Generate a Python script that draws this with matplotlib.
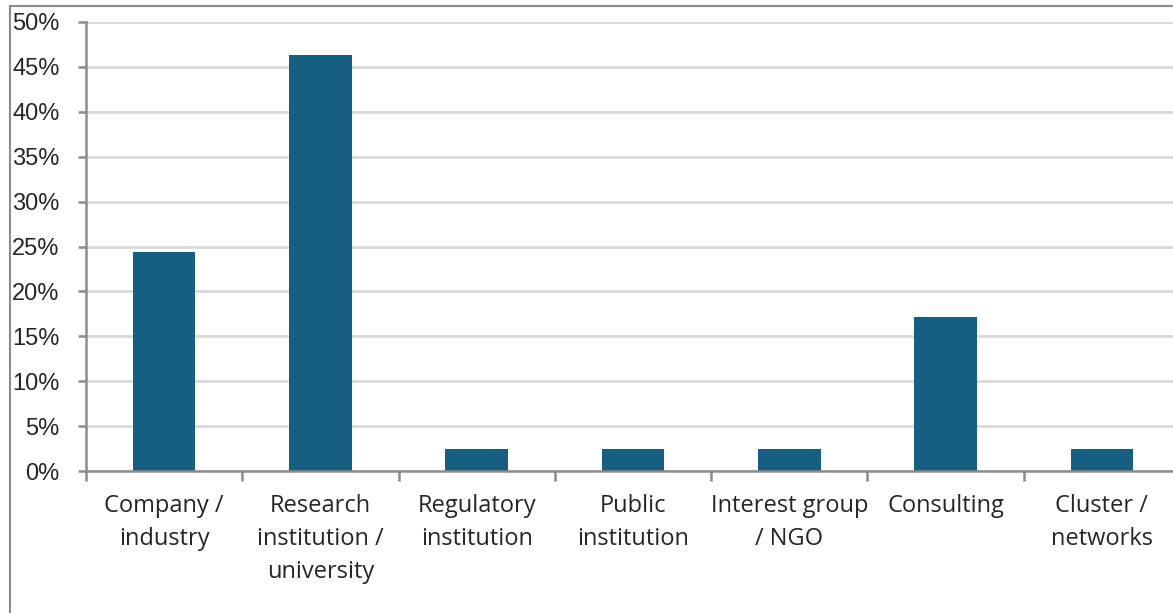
import matplotlib
matplotlib.use("Agg")
import matplotlib.pyplot as plt
from matplotlib.lines import Line2D
from matplotlib.ticker import FixedLocator, FuncFormatter

categories = [
    "Company /\nindustry",
    "Research\ninstitution /\nuniversity",
    "Regulatory\ninstitution",
    "Public\ninstitution",
    "Interest group\n/ NGO",
    "Consulting",
    "Cluster /\nnetworks",
]
shares = [24.4, 46.3, 2.4, 2.4, 2.4, 17.1, 2.4]
y_ticks = [0, 5, 10, 15, 20, 25, 30, 35, 40, 45, 50]

BAR = "#175f82"
GRID = "#d9d9d9"
AXIS = "#8c8c8c"
TEXT = "#262626"

W, H, DPI = 1173, 613, 100
fig = plt.figure(figsize=(W / DPI, H / DPI), dpi=DPI)
fig.patch.set_facecolor("white")

left, right, top, bottom = 86, 1180, 22, 471
ax = fig.add_axes([left / W, 1 - bottom / H, (right - left) / W, (bottom - top) / H])
ax.set_clip_on(False)

x = list(range(len(categories)))
ax.bar(x, shares, width=0.4, color=BAR, zorder=3)

ax.set_xlim(-0.5, len(categories) - 0.5)
ax.set_ylim(0, 50)

# horizontal gridlines
ax.yaxis.set_major_locator(FixedLocator(y_ticks))
ax.yaxis.set_major_formatter(FuncFormatter(lambda v, p: f"{v:.0f}%"))
ax.grid(axis="y", color=GRID, linewidth=2, zorder=0)
ax.set_axisbelow(True)

for s in ["top", "right"]:
    ax.spines[s].set_visible(False)
for s in ["left", "bottom"]:
    ax.spines[s].set_color(AXIS)
    ax.spines[s].set_linewidth(1.8)
    ax.spines[s].set_zorder(4)

ax.tick_params(axis="y", length=6, width=1.8, color=AXIS, pad=13,
               labelsize=17, labelcolor=TEXT)
for lbl in ax.get_yticklabels():
    lbl.set_fontfamily("Liberation Sans")

# category separators as major ticks, names as minor ticks
ax.xaxis.set_major_locator(FixedLocator([i - 0.5 for i in range(len(categories) + 1)]))
ax.xaxis.set_major_formatter(FuncFormatter(lambda v, p: ""))
ax.xaxis.set_minor_locator(FixedLocator(x))
ax.set_xticklabels(categories, minor=True)
ax.tick_params(axis="x", which="major", length=7, width=1.8, color=AXIS)
ax.tick_params(axis="x", which="minor", length=0, pad=16.5, labelsize=17,
               labelcolor=TEXT)
for lbl in ax.get_xticklabels(minor=True):
    lbl.set_fontfamily("Open Sans")
    lbl.set_linespacing(1.5)

# outer frame lines on the left and top
fig.add_artist(Line2D([10 / W, 10 / W], [0, 1 - 6 / H], transform=fig.transFigure,
                      color=AXIS, linewidth=1.5))
fig.add_artist(Line2D([10 / W, 1], [1 - 6 / H, 1 - 6 / H], transform=fig.transFigure,
                      color=AXIS, linewidth=1.5))

fig.savefig("out.png", dpi=DPI)
